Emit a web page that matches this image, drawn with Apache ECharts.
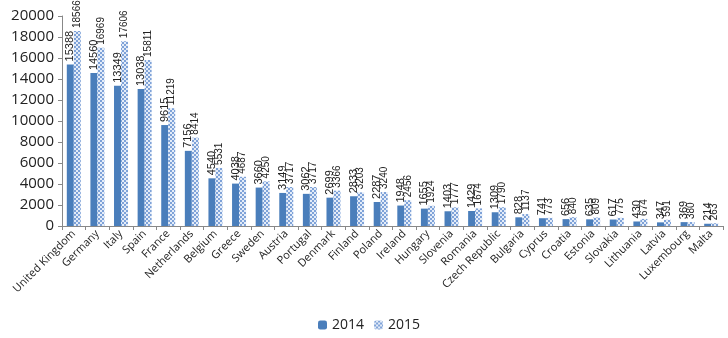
<!DOCTYPE html>
<html>
<head>
<meta charset="utf-8">
<script src="https://cdn.jsdelivr.net/npm/echarts@6/dist/echarts.min.js"></script>
<style>
html,body{margin:0;padding:0;background:#fff;}
#chart{width:728px;height:338px;}
</style>
</head>
<body>
<div id="chart"></div>
<script>
const countries = ['United Kingdom','Germany','Italy','Spain','France','Netherlands','Belgium','Greece','Sweden','Austria','Portugal','Denmark','Finland','Poland','Ireland','Hungary','Slovenia','Romania','Czech Republic','Bulgaria','Cyprus','Croatia','Estonia','Slovakia','Lithuania','Latvia','Luxembourg','Malta'];
const values2014 = [15388,14560,13349,13038,9615,7156,4540,4038,3660,3149,3062,2699,2833,2287,1948,1655,1403,1429,1309,828,741,656,635,617,430,347,369,214];
const values2015 = [18566,16969,17606,15811,11219,8414,5531,4687,4250,3717,3717,3366,3203,3240,2456,1924,1777,1674,1790,1137,773,840,809,775,674,591,380,263];
const yTicks = {min:0, max:20000, interval:2000};

// checkered fill for the 2015 bars
function checker() {
  const c = document.createElement('canvas');
  c.width = 4; c.height = 4;
  const g = c.getContext('2d');
  g.fillStyle = '#e4ecf8'; g.fillRect(0,0,4,4);
  g.fillStyle = '#7ea2d8';
  g.fillRect(0,0,2,2); g.fillRect(2,2,2,2);
  return c;
}

const chart = echarts.init(document.getElementById('chart'), null, {renderer:'canvas'});
const labelFont = 'Liberation Sans Narrow, Liberation Sans, Arial, sans-serif';
chart.setOption({
  animation:false,
  grid:{left:62, right:5, top:16, bottom:112},
  legend:{
    top:313, left:313, itemWidth:9, itemHeight:9, itemGap:10,
    textStyle:{fontFamily:'Open Sans, sans-serif', fontSize:14, color:'#222'},
    data:['2014','2015']
  },
  xAxis:{
    type:'category', data:countries,
    axisLine:{lineStyle:{color:'#888'}},
    axisTick:{show:true, alignWithLabel:false, length:4, lineStyle:{color:'#888'}},
    axisLabel:{rotate:45, interval:0, fontFamily:'Open Sans, sans-serif', fontSize:11, color:'#222', margin:6}
  },
  yAxis:{
    type:'value', min:yTicks.min, max:yTicks.max, interval:yTicks.interval,
    axisLine:{show:true, lineStyle:{color:'#888'}},
    axisTick:{show:true, length:4, lineStyle:{color:'#888'}},
    splitLine:{show:false},
    axisLabel:{fontFamily:'Open Sans, sans-serif', fontSize:15, color:'#222', margin:8,
      formatter:function(v){ return String(v); }}
  },
  series:[
    {
      name:'2014', type:'bar', data:values2014, barWidth:7, barGap:'0%',
      itemStyle:{color:'#4a7ebb'},
      label:{show:true, position:'top', rotate:90, align:'left', verticalAlign:'middle', distance:3,
        fontFamily:labelFont, fontSize:11, color:'#222'}
    },
    {
      name:'2015', type:'bar', data:values2015, barWidth:7,
      itemStyle:{color:{image:checker(), repeat:'repeat'}},
      label:{show:true, position:'top', rotate:90, align:'left', verticalAlign:'middle', distance:3,
        fontFamily:labelFont, fontSize:10, color:'#222'}
    }
  ]
});
</script>
</body>
</html>
